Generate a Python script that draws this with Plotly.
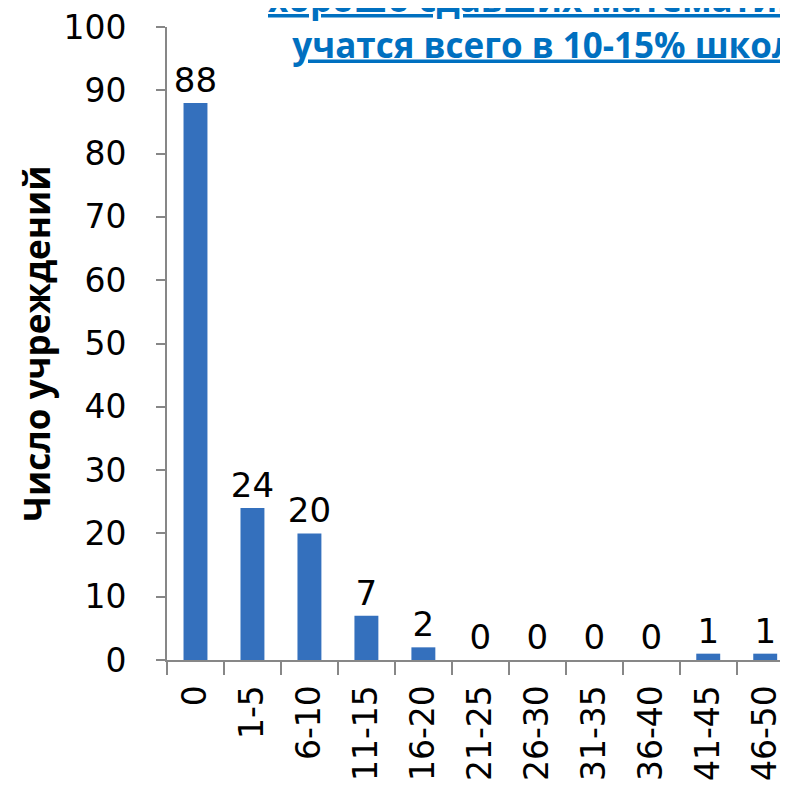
"""Distribution of schools by share of students who passed math well."""

import plotly.graph_objects as go

categories = ['0', '1-5', '6-10', '11-15', '16-20', '21-25',
              '26-30', '31-35', '36-40', '41-45', '46-50']
counts = [88, 24, 20, 7, 2, 0, 0, 0, 0, 1, 1]

y_title = 'Число учреждений'
headline = ('хорошо сдавших математику<br>'
            'учатся всего в 10-15% школ')

axis_grey = '#878787'

fig = go.Figure()

fig.add_trace(go.Bar(
    x=categories,
    y=counts,
    width=0.42,
    marker=dict(color='#3470BD', line=dict(width=0)),
    text=counts,
    textposition='outside',
    constraintext='none',
    textfont=dict(family='DejaVu Sans', size=34, color='black'),
    cliponaxis=False,
))

# page body has an 8px margin, so the figure is a bit smaller than the window
fig.update_layout(
    width=780,
    height=778,
    margin=dict(l=159, r=0, t=19, b=126),
    paper_bgcolor='white',
    plot_bgcolor='white',
    showlegend=False,
    font=dict(family='DejaVu Sans', color='black'),
)

fig.update_xaxes(
    range=[-0.5, 10.4],
    automargin=False,
    showline=True,
    linecolor=axis_grey,
    linewidth=2,
    ticks='outside',
    tickson='boundaries',
    ticklen=13,
    tickwidth=2,
    tickcolor=axis_grey,
    tickangle=-90,
    tickfont=dict(size=33),
    ticklabelstandoff=10,
    ticklabeloverflow='allow',
    showgrid=False,
    zeroline=False,
)

fig.update_yaxes(
    range=[0, 100],
    dtick=10,
    automargin=False,
    showline=True,
    linecolor=axis_grey,
    linewidth=2,
    ticks='outside',
    ticklen=9,
    tickwidth=2,
    tickcolor=axis_grey,
    tickfont=dict(size=33),
    ticklabelstandoff=23,
    ticklabeloverflow='allow',
    showgrid=False,
    zeroline=False,
    title=dict(text=y_title,
               font=dict(family='Open Sans', size=35, weight='bold'),
               standoff=2),
)

# headline box, partly cut off by the top and right edges
fig.add_annotation(
    text=headline,
    xref='paper', yref='paper',
    x=0.607, y=0.932,
    xanchor='center', yanchor='bottom',
    showarrow=False,
    align='center',
    font=dict(family='Open Sans', size=35, color='#0070C0',
              weight='bold', lineposition='under'),
)

fig.write_html('out.html')
